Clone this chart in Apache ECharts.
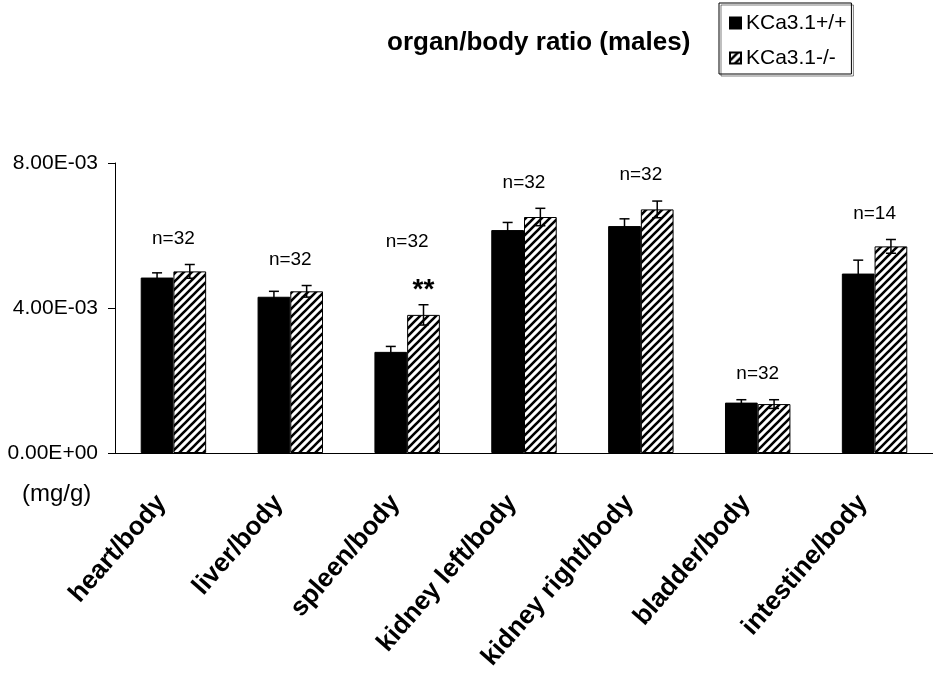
<!DOCTYPE html>
<html>
<head>
<meta charset="utf-8">
<script src="https://cdn.jsdelivr.net/npm/echarts@6/dist/echarts.min.js"></script>
<style>
  html, body { margin: 0; padding: 0; background: #fff; }
  #chart { width: 933px; height: 675px; }
</style>
</head>
<body>
<div id="chart"></div>
<script>
const categories = ['heart/body', 'liver/body', 'spleen/body', 'kidney left/body', 'kidney right/body', 'bladder/body', 'intestine/body'];
const wildType = [0.00484, 0.00431, 0.00279, 0.00615, 0.00626, 0.00139, 0.00495];
const wildTypeErr = [0.00013, 0.00015, 0.00015, 0.00021, 0.00020, 0.00008, 0.00037];
const knockout = [0.00501, 0.00446, 0.00381, 0.00651, 0.00672, 0.00135, 0.00570];
const knockoutErr = [0.00019, 0.00016, 0.00028, 0.00024, 0.00023, 0.00012, 0.00019];
const nLabels = ['n=32', 'n=32', 'n=32', 'n=32', 'n=32', 'n=32', 'n=14'];
const sigMarks = ['', '', '**', '', '', '', ''];
const yTicks = [0, 0.004, 0.008];
const yTickLabels = ['0.00E+00', '4.00E-03', '8.00E-03'];

const FONT = '"Liberation Sans", Arial, sans-serif';

// diagonal hatch tile
function hatchPattern() {
  const c = document.createElement('canvas');
  c.width = 8; c.height = 8;
  const g = c.getContext('2d');
  g.fillStyle = '#fff';
  g.fillRect(0, 0, 8, 8);
  g.strokeStyle = '#000';
  g.lineWidth = 2.6;
  g.beginPath();
  g.moveTo(0, 8); g.lineTo(8, 0);
  g.moveTo(-2, 2); g.lineTo(2, -2);
  g.moveTo(6, 10); g.lineTo(10, 6);
  g.stroke();
  return { image: c, repeat: 'repeat' };
}
const hatch = hatchPattern();

function errorSeries(vals, errs, side) {
  return {
    type: 'custom',
    z: 5,
    data: vals.map((v, i) => [i, v, errs[i]]),
    renderItem: function (params, api) {
      const i = api.value(0), v = api.value(1), e = api.value(2);
      const bw = api.size([1, 0])[0] * 0.28;
      const top = api.coord([i, v + e]);
      const bot = api.coord([i, v - e]);
      const x = top[0] + side * bw / 2;
      const cap = 5;
      const st = { stroke: '#000', lineWidth: 1.5 };
      return {
        type: 'group',
        children: [
          { type: 'line', shape: { x1: x, y1: top[1], x2: x, y2: bot[1] }, style: st },
          { type: 'line', shape: { x1: x - cap, y1: top[1], x2: x + cap, y2: top[1] }, style: st },
          { type: 'line', shape: { x1: x - cap, y1: bot[1], x2: x + cap, y2: bot[1] }, style: st }
        ]
      };
    }
  };
}

const chart = echarts.init(document.getElementById('chart'));
chart.setOption({
  animation: false,
  backgroundColor: '#fff',
  title: {
    text: 'organ/body ratio (males)',
    left: 382,
    top: 25,
    textStyle: { fontFamily: FONT, fontSize: 26, fontWeight: 'bold', color: '#000' }
  },
  legend: {
    data: ['KCa3.1+/+', 'KCa3.1-/-'],
    orient: 'vertical',
    left: 719,
    top: 3,
    padding: [8, 5, 4, 10],
    itemWidth: 11,
    itemHeight: 11,
    itemGap: 11,
    icon: 'rect',
    borderColor: '#000',
    borderWidth: 1,
    shadowColor: 'rgba(0,0,0,0.5)',
    shadowOffsetX: 2,
    shadowOffsetY: 2,
    textStyle: { fontFamily: FONT, fontSize: 21, color: '#000', lineHeight: 24 }
  },
  grid: { left: 115, right: -7, top: 163, bottom: 222 },
  xAxis: {
    type: 'category',
    data: categories,
    axisLine: { lineStyle: { color: '#000', width: 1 } },
    axisTick: { length: 10, lineStyle: { color: '#000' } },
    axisLabel: {
      rotate: 49,
      interval: 0,
      margin: 32,
      padding: [0, 18, 0, 0],
      color: '#000',
      fontFamily: FONT,
      fontSize: 26,
      fontWeight: 'bold'
    }
  },
  yAxis: {
    type: 'value',
    min: 0,
    max: 0.008,
    interval: 0.004,
    splitLine: { show: false },
    axisLine: { show: true, lineStyle: { color: '#000', width: 1 } },
    axisTick: { show: true, length: 7, lineStyle: { color: '#000' } },
    axisLabel: {
      margin: 17,
      color: '#000',
      fontFamily: FONT,
      fontSize: 21,
      formatter: v => yTickLabels[yTicks.findIndex(t => Math.abs(t - v) < 1e-9)] || ''
    }
  },
  graphic: [{
    type: 'text',
    left: 22,
    top: 482,
    style: { text: '(mg/g)', fontFamily: FONT, fontSize: 24, fill: '#000' }
  }],
  series: [
    {
      name: 'KCa3.1+/+',
      type: 'bar',
      data: wildType,
      barWidth: '28%',
      barGap: '0%',
      itemStyle: { color: '#000', borderColor: '#000', borderWidth: 1 }
    },
    {
      name: 'KCa3.1-/-',
      type: 'bar',
      data: knockout,
      barWidth: '28%',
      barGap: '0%',
      itemStyle: { color: hatch, borderColor: '#000', borderWidth: 1 }
    },
    errorSeries(wildType, wildTypeErr, -1),
    errorSeries(knockout, knockoutErr, 1),
    {
      type: 'custom',
      z: 6,
      data: categories.map((c, i) => [i, Math.max(wildType[i] + wildTypeErr[i], knockout[i] + knockoutErr[i])]),
      renderItem: function (params, api) {
        const i = api.value(0);
        const p = api.coord([i, api.value(1)]);
        const bw = api.size([1, 0])[0] * 0.28;
        const children = [];
        let y = p[1] - 26;
        if (sigMarks[i]) {
          children.push({
            type: 'text',
            style: {
              text: sigMarks[i], x: p[0] + bw / 2, y: p[1] - 14,
              align: 'center', verticalAlign: 'middle',
              fontFamily: FONT, fontSize: 28, fontWeight: 'bold', fill: '#000'
            }
          });
          y = p[1] - 63;
        }
        children.push({
          type: 'text',
          style: {
            text: nLabels[i], x: p[0], y: y,
            align: 'center', verticalAlign: 'middle',
            fontFamily: FONT, fontSize: 19, fill: '#000'
          }
        });
        return { type: 'group', children: children };
      }
    }
  ]
});
</script>
</body>
</html>
